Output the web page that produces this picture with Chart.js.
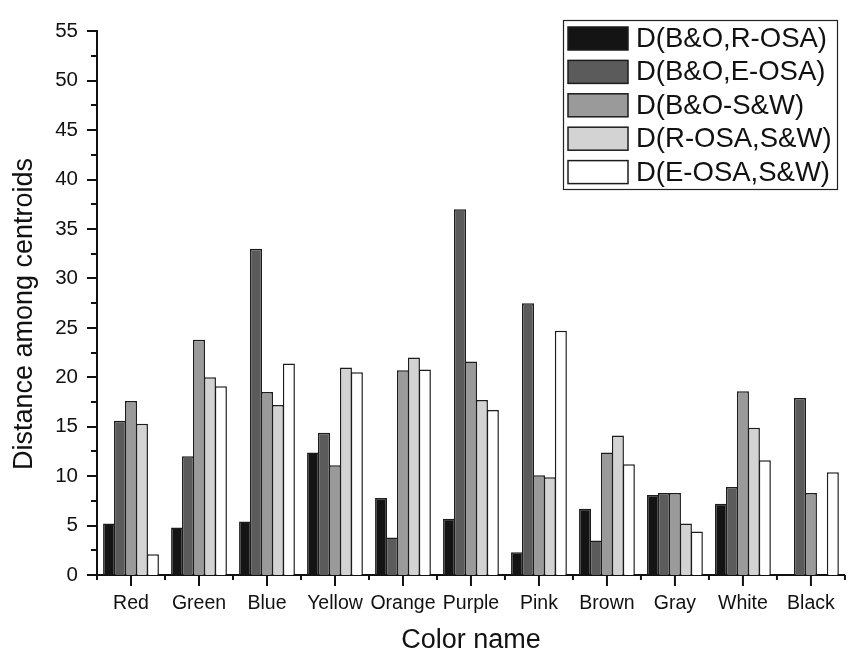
<!DOCTYPE html>
<html>
<head>
<meta charset="utf-8">
<script src="https://cdn.jsdelivr.net/npm/chart.js@4.4.1/dist/chart.umd.min.js"></script>
<style>
  body { margin: 0; background: #fff; }
  #wrap { width: 852px; height: 655px; }
</style>
</head>
<body>
<div id="wrap"><canvas id="chart" width="852" height="655"></canvas></div>
<script>
// données
const categories = ['Red', 'Green', 'Blue', 'Yellow', 'Orange', 'Purple', 'Pink', 'Brown', 'Gray', 'White', 'Black'];
const seriesLabels = ['D(B&O,R-OSA)', 'D(B&O,E-OSA)', 'D(B&O-S&W)', 'D(R-OSA,S&W)', 'D(E-OSA,S&W)'];
const dBO_ROSA = [5.2, 4.8, 5.4, 12.4, 7.8, 5.7, 2.3, 6.7, 8.1, 7.2, null];
const dBO_EOSA = [15.6, 12.0, 33.0, 14.4, 3.8, 37.0, 27.5, 3.5, 8.3, 8.9, 17.9];
const dBO_SW = [17.6, 23.8, 18.5, 11.1, 20.7, 21.6, 10.1, 12.4, 8.3, 18.6, 8.3];
const dROSA_SW = [15.3, 20.0, 17.2, 21.0, 22.0, 17.7, 9.9, 14.1, 5.2, 14.9, null];
const dEOSA_SW = [2.1, 19.1, 21.4, 20.5, 20.8, 16.7, 24.7, 11.2, 4.4, 11.6, 10.4];
const yMin = 0, yMax = 55, yStep = 5;

const fills = ['#141414', '#5b5b5b', '#9a9a9a', '#d3d3d3', '#ffffff'];
const edge = '#1c1c1c';
const FONT = '"Liberation Sans", Arial, sans-serif';

const allSeries = [dBO_ROSA, dBO_EOSA, dBO_SW, dROSA_SW, dEOSA_SW];
const datasets = allSeries.map((vals, i) => ({
  label: seriesLabels[i],
  data: vals,
  backgroundColor: fills[i],
  borderColor: edge,
  borderWidth: 1.5,
  borderSkipped: 'bottom'
}));

// petits traits des axes + titre vertical + légende
const decor = {
  id: 'decor',
  afterDraw(chart) {
    const ctx = chart.ctx;
    const x = chart.scales.x, y = chart.scales.y;
    const area = chart.chartArea;
    ctx.save();
    ctx.strokeStyle = '#111';
    ctx.lineWidth = 2;
    // ticks y : majeurs tous les 5, mineurs à 2.5
    for (let v = yMin; v <= yMax; v += yStep / 2) {
      const py = Math.round(y.getPixelForValue(v));
      const len = (v % yStep === 0) ? 10 : 6;
      ctx.beginPath();
      ctx.moveTo(area.left, py);
      ctx.lineTo(area.left - len, py);
      ctx.stroke();
    }
    // ticks x : majeurs au centre, mineurs aux limites
    const w = (area.right - area.left) / categories.length;
    for (let i = 0; i <= categories.length; i++) {
      const px = area.left + i * w;
      ctx.beginPath();
      ctx.moveTo(px, area.bottom);
      ctx.lineTo(px, area.bottom + 5);
      ctx.stroke();
    }
    categories.forEach((c, i) => {
      const px = x.getPixelForValue(i);
      ctx.beginPath();
      ctx.moveTo(px, area.bottom);
      ctx.lineTo(px, area.bottom + 11);
      ctx.stroke();
    });

    // titre axe y
    ctx.fillStyle = '#111';
    ctx.font = '27px ' + FONT;
    ctx.textAlign = 'center';
    ctx.textBaseline = 'middle';
    ctx.translate(25, 314);
    ctx.rotate(-Math.PI / 2);
    ctx.fillText('Distance among centroids', 0, 0);
    ctx.restore();

    // légende
    ctx.save();
    const lx = 563.5, ly = 20.5, lw = 274, lh = 169;
    ctx.fillStyle = '#fff';
    ctx.fillRect(lx, ly, lw, lh);
    ctx.strokeStyle = '#222';
    ctx.lineWidth = 1.2;
    ctx.strokeRect(lx, ly, lw, lh);
    ctx.font = '27.5px ' + FONT;
    ctx.textAlign = 'left';
    ctx.textBaseline = 'middle';
    chart.data.datasets.forEach((ds, i) => {
      const cy = 38.5 + i * 33.4;
      ctx.fillStyle = ds.backgroundColor;
      ctx.fillRect(568, cy - 11.5, 60, 23);
      ctx.strokeStyle = edge;
      ctx.lineWidth = 1.5;
      ctx.strokeRect(568, cy - 11.5, 60, 23);
      ctx.fillStyle = '#111';
      ctx.fillText(ds.label, 636, cy + 1);
    });
    ctx.restore();
  }
};

new Chart(document.getElementById('chart').getContext('2d'), {
  type: 'bar',
  data: { labels: categories, datasets: datasets },
  options: {
    responsive: false,
    animation: false,
    layout: { padding: { top: 21, right: 5, left: 0, bottom: 0 } },
    datasets: { bar: { categoryPercentage: 0.805, barPercentage: 1.1 } },
    plugins: {
      legend: { display: false },
      tooltip: { enabled: false }
    },
    scales: {
      x: {
        grid: { display: false, drawTicks: false },
        border: { display: true, color: '#111', width: 2 },
        ticks: { color: '#111', font: { family: FONT, size: 19.5 }, padding: 17, maxRotation: 0, autoSkip: false },
        title: { display: true, text: 'Color name', color: '#111', font: { family: FONT, size: 27 }, padding: { top: 0, bottom: -2 } },
        afterFit(scale) { scale.height = 80; }
      },
      y: {
        min: yMin,
        max: yMax,
        grid: { display: false, drawTicks: false },
        border: { display: true, color: '#111', width: 2 },
        ticks: { stepSize: yStep, color: '#111', font: { family: FONT, size: 20.5 }, padding: 19 },
        afterFit(scale) { scale.width = 97; }
      }
    }
  },
  plugins: [decor]
});
</script>
</body>
</html>
